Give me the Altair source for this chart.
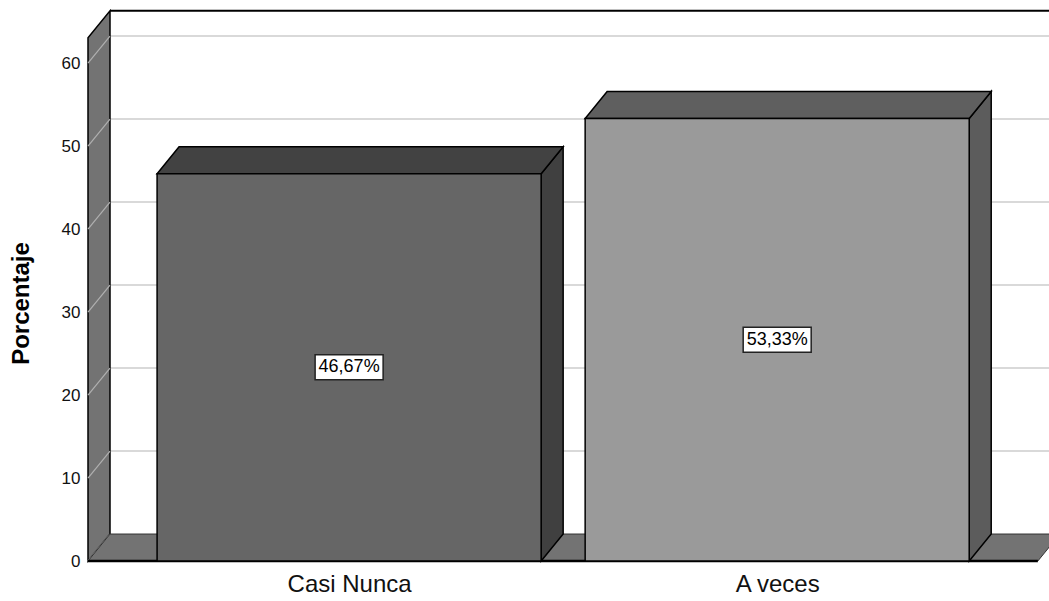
import altair as alt
import pandas as pd

# ---- data ----
categories = ["Casi Nunca", "A veces"]
percentages = [46.67, 53.33]
value_labels = ["46,67%", "53,33%"]
y_ticks = [0, 10, 20, 30, 40, 50, 60]
y_title = "Porcentaje"

# ---- styling ----
front_colors = ["#666666", "#9a9a9a"]
top_colors = ["#424242", "#5f5f5f"]
side_colors = ["#404040", "#5c5c5c"]
WALL_COLOR = "#737373"
GRID_COLOR = "#cccccc"
FONT = "Liberation Sans"

# geometry in data units (x: category index, y: percent)
X_MIN, X_MAX = -0.61, 1.635
Y_MAX = 67.0
WALL_TOP = 63.05
DX = 0.0514          # depth offset, horizontal
DY = 3.25            # depth offset, vertical
HW = 0.4486          # half bar width
FLOOR_RIGHT = 1.609
W, H = 961, 556

xs = alt.Scale(domain=[X_MIN, X_MAX], nice=False, zero=False)
ys = alt.Scale(domain=[0, Y_MAX], nice=False, zero=False)

label_expr = "[" + ",".join("'" + c + "'" for c in categories) + "][datum.value]"

X_AXIS = alt.Axis(
    values=list(range(len(categories))), labelExpr=label_expr, title=None,
    domain=False, ticks=False, grid=False, labelFont=FONT, labelFontSize=24,
    labelColor="#111111", labelPadding=11, labelFontWeight="normal")
Y_AXIS = alt.Axis(
    values=y_ticks, title=y_title, domain=False, ticks=False, grid=False,
    labelFont=FONT, labelFontSize=17, labelColor="#111111", labelPadding=8,
    titleFont=FONT, titleFontSize=24, titleFontWeight="bold", titleColor="black",
    titleAngle=270, titleX=-67, titleY=298, titleAlign="center",
    titleBaseline="middle")


def X(f, **kw):
    return alt.X(f, type="quantitative", scale=xs, axis=X_AXIS, **kw)


def Y(f, **kw):
    return alt.Y(f, type="quantitative", scale=ys, axis=Y_AXIS, stack=None, **kw)


# ---- polygon tables built from the values ----
vert_rows = []   # faces with vertical edges: t = x, a..b = y range
horz_rows = []   # faces with horizontal edges: t = y, a..b = x range

vert_rows += [
    dict(id="wall", fill=WALL_COLOR, t=X_MIN, a=0, b=WALL_TOP),
    dict(id="wall", fill=WALL_COLOR, t=X_MIN + DX, a=DY, b=WALL_TOP + DY),
]
floor_rows = [
    dict(id="floor", fill=WALL_COLOR, t=0, a=X_MIN, b=FLOOR_RIGHT),
    dict(id="floor", fill=WALL_COLOR, t=DY, a=X_MIN + DX, b=FLOOR_RIGHT + DX),
]

bar_rows = []
for i, (cat, v) in enumerate(zip(categories, percentages)):
    x0, x1 = i - HW, i + HW
    bar_rows.append(dict(cat=cat, x0=x0, x1=x1, v=v, zero=0, fill=front_colors[i],
                         mid=v / 2, lab=value_labels[i], idx=i))
    vert_rows += [
        dict(id=f"side{i}", fill=side_colors[i], t=x1, a=0, b=v),
        dict(id=f"side{i}", fill=side_colors[i], t=x1 + DX, a=DY, b=v + DY),
    ]
    horz_rows += [
        dict(id=f"top{i}", fill=top_colors[i], t=v, a=x0, b=x1),
        dict(id=f"top{i}", fill=top_colors[i], t=v + DY, a=x0 + DX, b=x1 + DX),
    ]

wall_df = pd.DataFrame([r for r in vert_rows if r["id"] == "wall"])
side_df = pd.DataFrame([r for r in vert_rows if r["id"] != "wall"])
floor_df = pd.DataFrame(floor_rows)
top_df = pd.DataFrame(horz_rows)
bars_df = pd.DataFrame(bar_rows)

grid_df = pd.DataFrame({"v": [t for t in y_ticks if t > 0]})
grid_df["yb"] = grid_df["v"] + DY
grid_df["xa"] = X_MIN + DX
grid_df["xb"] = X_MAX

diag_df = pd.DataFrame({"v": y_ticks})
diag_df["yb"] = diag_df["v"] + DY
diag_df["xa"] = X_MIN
diag_df["xb"] = X_MIN + DX

border_df = pd.DataFrame({"xa": [X_MIN + DX], "xb": [X_MAX], "y": [WALL_TOP + DY]})
front_edge_df = pd.DataFrame({"xa": [X_MIN], "xb": [FLOOR_RIGHT], "y": [0]})

# ---- layers ----
back_grid = alt.Chart(grid_df).mark_rule(color=GRID_COLOR, strokeWidth=1.5).encode(
    x=X("xa"), x2="xb", y=Y("yb"))

top_border = alt.Chart(border_df).mark_rule(color="black", strokeWidth=2).encode(
    x=X("xa"), x2="xb", y=Y("y"))

wall = alt.Chart(wall_df).mark_area(orient="vertical", stroke="black", strokeWidth=1.5).encode(
    x=X("t"), y=Y("a"), y2="b", color=alt.Color("fill:N", scale=None), detail="id:N")

wall_diag = alt.Chart(diag_df).mark_rule(color="#b0b0b0", strokeWidth=1.2).encode(
    x=X("xa"), x2="xb", y=Y("v"), y2="yb")

floor = alt.Chart(floor_df).mark_area(orient="horizontal", stroke="#333333", strokeWidth=1,
                                      clip=True).encode(
    y=Y("t"), x=X("a"), x2="b", color=alt.Color("fill:N", scale=None), detail="id:N")

front_edge = alt.Chart(front_edge_df).mark_rule(color="black", strokeWidth=2.5).encode(
    x=X("xa"), x2="xb", y=Y("y"))

sides = alt.Chart(side_df).mark_area(orient="vertical", stroke="black", strokeWidth=1.5).encode(
    x=X("t"), y=Y("a"), y2="b", color=alt.Color("fill:N", scale=None), detail="id:N")

tops = alt.Chart(top_df).mark_area(orient="horizontal", stroke="black", strokeWidth=1.5).encode(
    y=Y("t"), x=X("a"), x2="b", color=alt.Color("fill:N", scale=None), detail="id:N")

fronts = alt.Chart(bars_df).mark_rect(stroke="black", strokeWidth=1.5).encode(
    x=X("x0"), x2="x1", y=Y("v"), y2="zero",
    color=alt.Color("fill:N", scale=None),
)

boxes = alt.Chart(bars_df).mark_rect(width=68, height=25, fill="white", stroke="#222222",
                                     strokeWidth=1.5).encode(
    x=X("idx"), y=Y("mid"))

box_text = alt.Chart(bars_df).mark_text(font=FONT, fontSize=18, color="black",
                                        align="center", baseline="middle").encode(
    x=X("idx"), y=Y("mid"), text="lab:N")

chart = alt.layer(
    back_grid, top_border, wall, wall_diag, floor, front_edge,
    sides, tops, fronts, boxes, box_text,
).properties(
    width=W, height=H,
    autosize=alt.AutoSizeParams(type="none"),
    padding={"left": 88, "top": 5, "right": 0, "bottom": 40},
    background="white",
).configure_view(stroke=None)

chart.save("out.html", embed_options={"renderer": "svg", "actions": False})
